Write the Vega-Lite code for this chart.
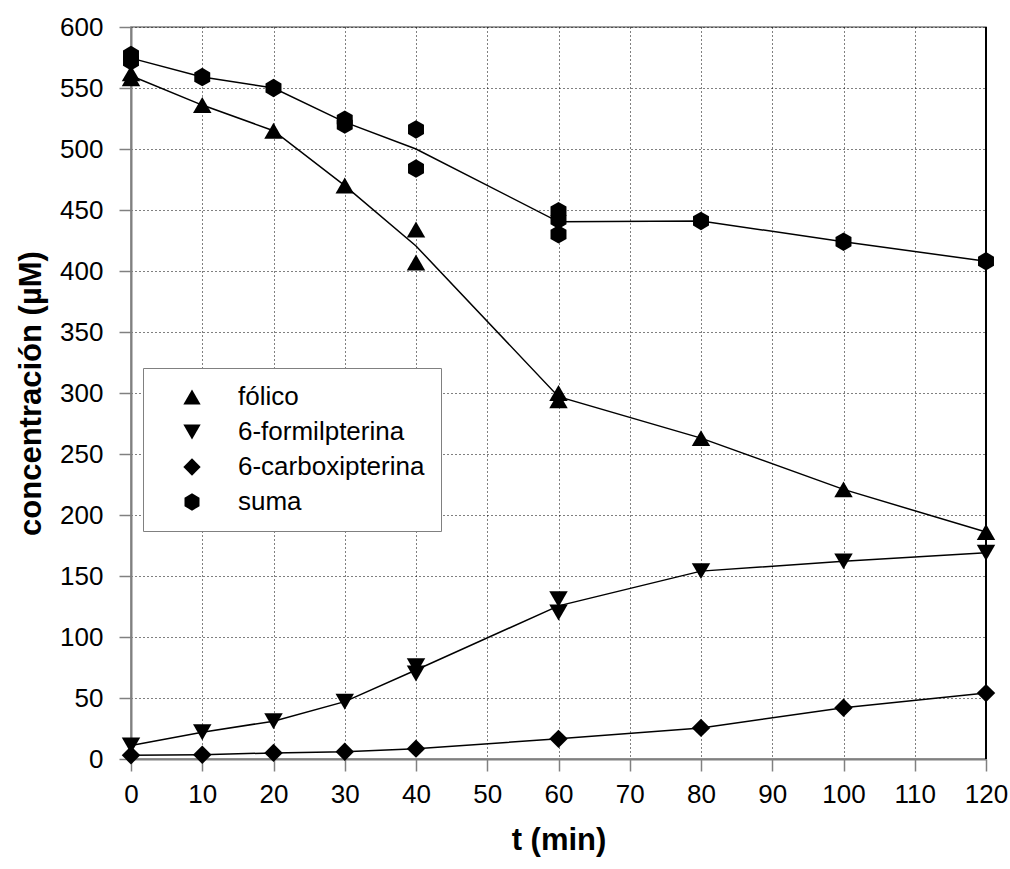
{
  "$schema": "https://vega.github.io/schema/vega-lite/v6.json",
  "autosize": {"type": "none"},
  "padding": {"left": 131, "top": 27, "right": 24, "bottom": 110},
  "width": 855,
  "height": 732,
  "background": "white",
  "config": {
    "font": "Liberation Sans",
    "view": {"stroke": "#808080", "strokeWidth": 1.5},
    "axis": {
      "labelFont": "Liberation Sans",
      "labelFontSize": 26,
      "labelColor": "black",
      "labelFlush": false,
      "labelOverlap": false,
      "titleFont": "Liberation Sans",
      "titleFontSize": 31,
      "titleFontWeight": "bold",
      "titleColor": "black",
      "domainColor": "#808080",
      "domainWidth": 2,
      "tickColor": "#808080",
      "tickWidth": 1.5,
      "grid": true,
      "gridColor": "black",
      "gridDash": [1, 3],
      "gridWidth": 1,
      "gridOpacity": 1
    },
    "legend": {
      "labelFont": "Liberation Sans",
      "labelFontSize": 26,
      "labelColor": "black",
      "labelLimit": 0
    }
  },
  "data": {
    "values": [
      {"serie": "fólico", "t": 0, "c": 562},
      {"serie": "fólico", "t": 0, "c": 558},
      {"serie": "fólico", "t": 10, "c": 536},
      {"serie": "fólico", "t": 20, "c": 515},
      {"serie": "fólico", "t": 30, "c": 470},
      {"serie": "fólico", "t": 40, "c": 434},
      {"serie": "fólico", "t": 40, "c": 407},
      {"serie": "fólico", "t": 60, "c": 300},
      {"serie": "fólico", "t": 60, "c": 294},
      {"serie": "fólico", "t": 80, "c": 263},
      {"serie": "fólico", "t": 100, "c": 221},
      {"serie": "fólico", "t": 120, "c": 186},
      {"serie": "6-formilpterina", "t": 0, "c": 11},
      {"serie": "6-formilpterina", "t": 10, "c": 22},
      {"serie": "6-formilpterina", "t": 20, "c": 31},
      {"serie": "6-formilpterina", "t": 30, "c": 47},
      {"serie": "6-formilpterina", "t": 40, "c": 76},
      {"serie": "6-formilpterina", "t": 40, "c": 70},
      {"serie": "6-formilpterina", "t": 60, "c": 131},
      {"serie": "6-formilpterina", "t": 60, "c": 120},
      {"serie": "6-formilpterina", "t": 80, "c": 154},
      {"serie": "6-formilpterina", "t": 100, "c": 162},
      {"serie": "6-formilpterina", "t": 120, "c": 169},
      {"serie": "6-carboxipterina", "t": 0, "c": 3},
      {"serie": "6-carboxipterina", "t": 10, "c": 3.5},
      {"serie": "6-carboxipterina", "t": 20, "c": 5},
      {"serie": "6-carboxipterina", "t": 30, "c": 6},
      {"serie": "6-carboxipterina", "t": 40, "c": 8.5},
      {"serie": "6-carboxipterina", "t": 60, "c": 16.5},
      {"serie": "6-carboxipterina", "t": 80, "c": 25.5},
      {"serie": "6-carboxipterina", "t": 100, "c": 42},
      {"serie": "6-carboxipterina", "t": 120, "c": 54},
      {"serie": "suma", "t": 0, "c": 577},
      {"serie": "suma", "t": 0, "c": 572},
      {"serie": "suma", "t": 10, "c": 559},
      {"serie": "suma", "t": 20, "c": 550},
      {"serie": "suma", "t": 30, "c": 524},
      {"serie": "suma", "t": 30, "c": 520},
      {"serie": "suma", "t": 40, "c": 516},
      {"serie": "suma", "t": 40, "c": 484},
      {"serie": "suma", "t": 60, "c": 449},
      {"serie": "suma", "t": 60, "c": 442},
      {"serie": "suma", "t": 60, "c": 430},
      {"serie": "suma", "t": 80, "c": 441},
      {"serie": "suma", "t": 100, "c": 424},
      {"serie": "suma", "t": 120, "c": 408}
    ]
  },
  "encoding": {
    "x": {
      "field": "t",
      "type": "quantitative",
      "scale": {"domain": [0, 120], "nice": false, "zero": false},
      "axis": {
        "title": "t (min)",
        "values": [0, 10, 20, 30, 40, 50, 60, 70, 80, 90, 100, 110, 120],
        "tickSize": 12,
        "labelPadding": 10,
        "titlePadding": 18
      }
    },
    "y": {
      "field": "c",
      "type": "quantitative",
      "scale": {"domain": [0, 600], "nice": false},
      "axis": {
        "title": "concentración (µM)",
        "values": [0, 50, 100, 150, 200, 250, 300, 350, 400, 450, 500, 550, 600],
        "tickSize": 12,
        "labelPadding": 16,
        "titlePadding": 12
      }
    }
  },
  "layer": [
    {
      "mark": {"type": "rule", "color": "black", "strokeWidth": 1.5},
      "encoding": {"x": {"datum": 120}, "y": null}
    },
    {
      "transform": [
        {"aggregate": [{"op": "mean", "field": "c", "as": "c"}], "groupby": ["serie", "t"]}
      ],
      "mark": {"type": "line", "color": "black", "strokeWidth": 1.5},
      "encoding": {
        "detail": {"field": "serie", "type": "nominal"},
        "order": {"field": "t", "type": "quantitative"}
      }
    },
    {
      "mark": {"type": "point", "filled": true, "color": "black", "opacity": 1, "size": 340},
      "encoding": {
        "shape": {
          "field": "serie",
          "type": "nominal",
          "scale": {
            "domain": ["fólico", "6-formilpterina", "6-carboxipterina", "suma"],
            "range": ["triangle-up", "triangle-down", "diamond", "M0,-1L0.866,-0.5L0.866,0.5L0,1L-0.866,0.5L-0.866,-0.5Z"]
          },
          "legend": {
            "title": null,
            "orient": "none",
            "legendX": 12,
            "legendY": 341,
            "padding": 16,
            "symbolOffset": 20,
            "symbolSize": 300,
            "symbolFillColor": "black",
            "symbolStrokeColor": "black",
            "labelOffset": 33,
            "rowPadding": 9,
            "strokeColor": "#808080",
            "fillColor": "white",
            "labelFontSize": 26,
            "labelLimit": 0
          }
        }
      }
    }
  ]
}
